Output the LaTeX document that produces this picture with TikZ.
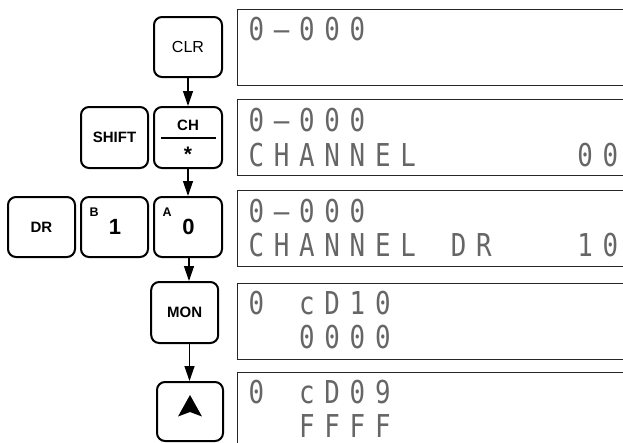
\documentclass[tikz,border=0pt]{standalone}
\usepackage{fontspec}
\setmainfont{Liberation Sans}
\newfontfamily\lcdfont{DejaVu Sans Mono}
\usepackage{graphicx}
\usetikzlibrary{arrows.meta}
\makeatletter
\newcommand\lcdrow[1]{\@tfor\lcd@c:=#1\do{\makebox[25.3pt][l]{\scalebox{0.82}[1]{\lcd@c}}}}
\makeatother
\tikzset{
  keybox/.style={draw=black, line width=2pt, rounded corners=8pt, fill=white,
    minimum width=67pt, minimum height=60pt, inner sep=0pt, align=center},
  keybold/.style={font=\bfseries\fontsize{15}{15}\selectfont},
  keyreg/.style={font=\fontsize{16}{16}\selectfont},
  digit/.style={font=\bfseries\fontsize{22}{22}\selectfont, inner sep=0pt},
  shiftlbl/.style={font=\bfseries\fontsize{12.5}{12.5}\selectfont, inner sep=0pt, anchor=north west},
  disp/.style={draw=black!85, line width=1.1pt, minimum width=420pt, minimum height=76pt,
    anchor=north west, inner sep=0pt},
  lcdtext/.style={text=black!60, font=\lcdfont\fontsize{31.5}{31.5}\selectfont,
    inner sep=0pt, anchor=base west},
  flow/.style={line width=1.3pt, -{Triangle[length=15pt,width=10pt]}}
}
\begin{document}
\begin{tikzpicture}[x=1pt,y=-1pt]
\useasboundingbox (0,0) rectangle (623,442);
\fill[white] (0,0) rectangle (623,442);
% displays
\begin{scope}
\clip (0,0) rectangle (623,442);
\node[disp] (d1) at (237,9.3) {};
\node[disp] (d2) at (237,99.3) {};
\node[disp] (d3) at (237,190) {};
\node[disp] (d4) at (237,282.7) {};
\node[disp] (d5) at (237,371.7) {};
\node[lcdtext] (t1a) at (248.3,40.8) {\lcdrow{0–000}};
\node[lcdtext] (t2a) at (248.3,131.3) {\lcdrow{0–000}};
\node[lcdtext] (t2b) at (248.3,166) {\lcdrow{CHANNEL~~~~~~00}};
\node[lcdtext] (t3a) at (248.3,222) {\lcdrow{0–000}};
\node[lcdtext] (t3b) at (248.3,256.5) {\lcdrow{CHANNEL~DR~~~10}};
\node[lcdtext] (t4a) at (248.3,314.2) {\lcdrow{0~cD10}};
\node[lcdtext] (t4b) at (248.3,348.7) {\lcdrow{~~0000}};
\node[lcdtext] (t5a) at (248.3,403.2) {\lcdrow{0~cD09}};
\node[lcdtext] (t5b) at (248.3,437.7) {\lcdrow{~~FFFF}};
\end{scope}
% keys
\node[keybox, keyreg, minimum width=68pt] (clr) at (188,47) {CLR};
\node[keybox, keybold, minimum height=61pt] (shift) at (114.5,137.5) {SHIFT};
\node[keybox, minimum width=68pt, minimum height=61pt] (ch) at (188,137.5) {};
\node[keybold, inner sep=0pt] (chlbl) at (188,125) {CH};
\draw[line width=1.6pt] (161,137.7) -- (216,137.7);
\node[font=\bfseries\fontsize{21}{21}\selectfont, inner sep=0pt, anchor=north] (star) at (188,146.5) {*};
\node[keybox, keybold] (dr) at (41.5,227) {DR};
\node[keybox] (b1) at (114.5,227) {};
\node[digit] (one) at (115,226.5) {1};
\node[shiftlbl] (bl) at (89.5,207.8) {B};
\node[keybox, minimum width=68pt] (a0) at (188,227) {};
\node[digit] (zero) at (188.5,226.5) {0};
\node[shiftlbl] (al) at (162.5,207.8) {A};
\node[keybox, keybold, minimum height=61pt] (mon) at (184.7,312.5) {MON};
\node[keybox, minimum width=66pt, minimum height=59pt] (up) at (190,411.5) {};
\fill (190,395) -- (202,416.5) -- (190,412) -- (178,416.5) -- cycle;
% connectors
\draw[flow] (clr.south) -- (ch.north);
\draw[flow] (ch.south) -- (a0.north);
\draw[flow] ([xshift=1pt]a0.south) -- ([xshift=1pt]a0.south |- mon.north);
\draw[flow] (mon.south -| up.north) ++(-0.5,0) coordinate (m1) -- (m1 |- up.north);
\end{tikzpicture}
\end{document}
